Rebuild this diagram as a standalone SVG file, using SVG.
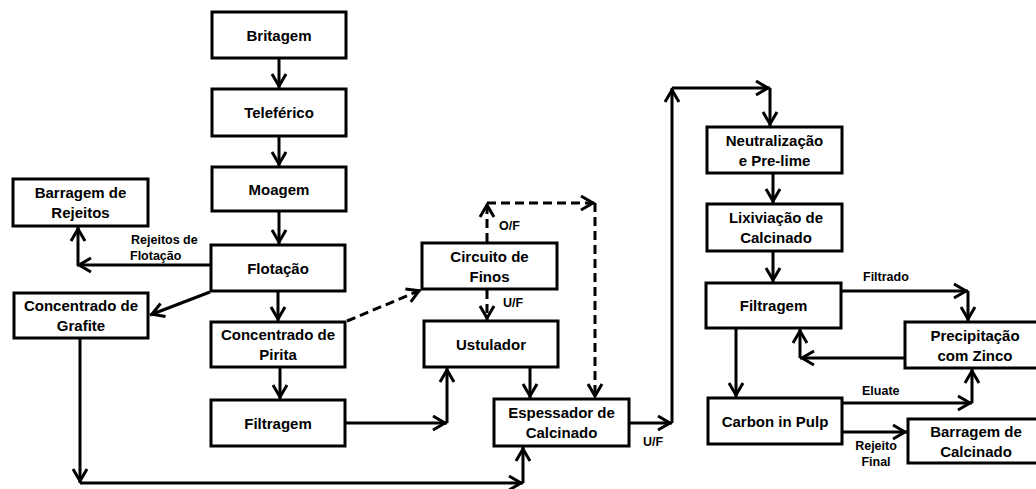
<svg xmlns="http://www.w3.org/2000/svg" width="1036" height="489" viewBox="0 0 1036 489">
<style>
.box{fill:#fff;stroke:#000;stroke-width:3}
.t{font-family:"Liberation Sans",Arial,sans-serif;font-weight:bold;font-size:15px;text-anchor:middle;fill:#000}
.l{font-family:"Liberation Sans",Arial,sans-serif;font-weight:bold;font-size:12.5px;fill:#000}
.c{fill:none;stroke:#000;stroke-width:3;marker-end:url(#ah)}
.d{stroke-dasharray:9,5}
</style>
<defs>
<marker id="ah" markerUnits="userSpaceOnUse" viewBox="-2 -2 20 18" markerWidth="20" markerHeight="18" refX="14" refY="7" orient="auto" overflow="visible">
<path d="M0,0 L12,7 L0,14" fill="none" stroke="#000" stroke-width="3" stroke-dasharray="none"/>
</marker>
</defs>
<g id="connectors">
<path class="c" d="M279,59 V88"/>
<path class="c" d="M279,137 V166"/>
<path class="c" d="M279,212 V244"/>
<path class="c" d="M210,265 H77"/>
<path class="c" d="M78,265 V227"/>
<path class="c" d="M210,292 L150,315"/>
<path class="c" d="M278,292 V321"/>
<path class="c" d="M280,368 V399"/>
<path class="c" d="M80,339 V483"/>
<path class="c" d="M80,483 H523"/>
<path class="c" d="M523,483 V447"/>
<path class="c" d="M346,423 H447"/>
<path class="c" d="M447,423 V368"/>
<path class="c" d="M530,368 V398"/>
<path class="c d" d="M347,321 L421,290"/>
<path class="c d" d="M487,242 V203"/>
<path class="c d" d="M487,203 H595"/>
<path class="c d" d="M595,203 V398"/>
<path class="c d" d="M487,290 V320"/>
<path class="c" d="M630,423 H672"/>
<path class="c" d="M672,423 V88"/>
<path class="c" d="M672,88 H770"/>
<path class="c" d="M770,88 V126"/>
<path class="c" d="M773,174 V203"/>
<path class="c" d="M773,252 V282"/>
<path class="c" d="M842,291 H968"/>
<path class="c" d="M968,291 V321"/>
<path class="c" d="M904,358 H800"/>
<path class="c" d="M800,358 V329"/>
<path class="c" d="M736,329 V397"/>
<path class="c" d="M843,403 H972"/>
<path class="c" d="M972,403 V369"/>
<path class="c" d="M843,432 H907"/>
<text class="l" x="131" y="244">Rejeitos de</text>
<text class="l" x="130" y="260">Flotação</text>
<text class="l" x="499" y="230">O/F</text>
<text class="l" x="503" y="307">U/F</text>
<text class="l" x="643" y="446">U/F</text>
<text class="l" x="863" y="281">Filtrado</text>
<text class="l" x="862" y="395">Eluate</text>
<text class="l" x="876" y="450" text-anchor="middle">Rejeito</text>
<text class="l" x="876" y="466" text-anchor="middle">Final</text>
</g>
<g id="britagem"><rect class="box" x="212" y="12" width="134" height="46"/><text class="t" x="279" y="40.5">Britagem</text></g>
<g id="teleferico"><rect class="box" x="212" y="89" width="134" height="47"/><text class="t" x="279" y="118">Teleférico</text></g>
<g id="moagem"><rect class="box" x="212" y="167" width="134" height="44"/><text class="t" x="279" y="194.5">Moagem</text></g>
<g id="flotacao"><rect class="box" x="211" y="245" width="134" height="46"/><text class="t" x="278" y="273.5">Flotação</text></g>
<g id="concentrado-pirita"><rect class="box" x="211" y="322" width="134" height="45"/><text class="t" x="278" y="340">Concentrado de</text><text class="t" x="278" y="360">Pirita</text></g>
<g id="filtragem1"><rect class="box" x="211" y="400" width="134" height="46"/><text class="t" x="278" y="428.5">Filtragem</text></g>
<g id="concentrado-grafite"><rect class="box" x="14" y="293" width="134" height="45"/><text class="t" x="81" y="311">Concentrado de</text><text class="t" x="81" y="331">Grafite</text></g>
<g id="barragem-rejeitos"><rect class="box" x="13" y="179" width="135" height="47"/><text class="t" x="80.5" y="198">Barragem de</text><text class="t" x="80.5" y="218">Rejeitos</text></g>
<g id="circuito-finos"><rect class="box" x="422" y="243" width="135" height="46"/><text class="t" x="489.5" y="261.5">Circuito de</text><text class="t" x="489.5" y="281.5">Finos</text></g>
<g id="ustulador"><rect class="box" x="424" y="321" width="134" height="46"/><text class="t" x="491" y="349.5">Ustulador</text></g>
<g id="espessador"><rect class="box" x="494" y="399" width="135" height="47"/><text class="t" x="561.5" y="418">Espessador de</text><text class="t" x="561.5" y="438">Calcinado</text></g>
<g id="neutralizacao"><rect class="box" x="707" y="127" width="135" height="46"/><text class="t" x="774.5" y="145.5">Neutralização</text><text class="t" x="774.5" y="165.5">e Pre-lime</text></g>
<g id="lixiviacao"><rect class="box" x="707" y="204" width="135" height="47"/><text class="t" x="776" y="223">Lixiviação de</text><text class="t" x="776" y="243">Calcinado</text></g>
<g id="filtragem2"><rect class="box" x="706" y="283" width="135" height="45"/><text class="t" x="773.5" y="311">Filtragem</text></g>
<g id="precipitacao"><rect class="box" x="905" y="322" width="140" height="46"/><text class="t" x="975" y="340.5">Precipitação</text><text class="t" x="975" y="360.5">com Zinco</text></g>
<g id="carbon-in-pulp"><rect class="box" x="708" y="398" width="134" height="46"/><text class="t" x="775" y="426.5">Carbon in Pulp</text></g>
<g id="barragem-calcinado"><rect class="box" x="908" y="419" width="140" height="44"/><text class="t" x="976" y="436.5">Barragem de</text><text class="t" x="976" y="456.5">Calcinado</text></g>
</svg>
